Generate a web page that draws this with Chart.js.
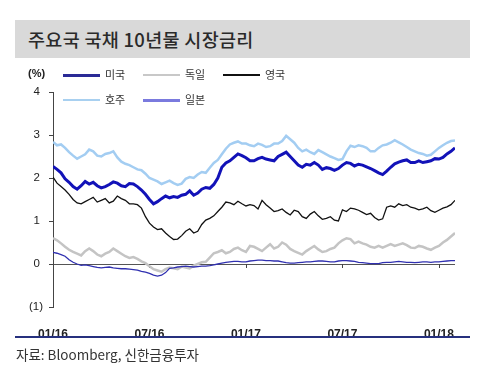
<!DOCTYPE html>
<html>
<head>
<meta charset="utf-8">
<script src="https://cdn.jsdelivr.net/npm/chart.js@4/dist/chart.umd.min.js"></script>
<style>
  html, body { margin:0; padding:0; background:#fff; }
  #wrap { position:relative; width:500px; height:378px; overflow:hidden; background:#fff; font-family:"Noto Sans CJK KR","Noto Sans",sans-serif; }
  #band { position:absolute; left:15px; top:20px; width:455px; height:38px; background:#d9d9d9; }
  #title { position:absolute; left:28px; top:27px; font-size:18.5px; font-weight:500; line-height:24px; color:#2a2a2a; white-space:nowrap; letter-spacing:0.3px; }
  canvas { position:absolute; left:0; top:0; }
  .lg { position:absolute; font-size:11px; line-height:14px; color:#333; white-space:nowrap; }
  .ln { position:absolute; }
  #unit { position:absolute; left:28px; top:67px; font:bold 11px "Liberation Sans",Arial,sans-serif; color:#222; }
  #rule { position:absolute; left:15px; top:336px; width:455px; height:2px; background:#26307e; }
  #src { position:absolute; left:16px; top:345px; font-size:13.5px; line-height:18px; color:#333; white-space:nowrap; }
</style>
</head>
<body>
<div id="wrap">
  <div id="band"></div>
  <div id="title">주요국 국채 10년물 시장금리</div>
  <canvas id="c" width="500" height="378"></canvas>
  <div id="unit">(%)</div>
  <div id="legend"></div>
  <div id="rule"></div>
  <div id="src">자료: Bloomberg, 신한금융투자</div>
</div>
<script>
// months since Jan 2016 (quarter-month steps)
const months = [0,0.25,0.5,0.75,1,1.25,1.5,1.75,2,2.25,2.5,2.75,3,3.25,3.5,3.75,4,4.25,4.5,4.75,5,5.25,5.5,5.75,6,6.25,6.5,6.75,7,7.25,7.5,7.75,8,8.25,8.5,8.75,9,9.25,9.5,9.75,10,10.25,10.5,10.75,11,11.25,11.5,11.75,12,12.25,12.5,12.75,13,13.25,13.5,13.75,14,14.25,14.5,14.75,15,15.25,15.5,15.75,16,16.25,16.5,16.75,17,17.25,17.5,17.75,18,18.25,18.5,18.75,19,19.25,19.5,19.75,20,20.25,20.5,20.75,21,21.25,21.5,21.75,22,22.25,22.5,22.75,23,23.25,23.5,23.75,24,24.25,24.5,24.75,25];

const usValues = [2.27,2.20,2.12,1.98,1.90,1.80,1.74,1.82,1.92,1.86,1.90,1.82,1.77,1.80,1.85,1.91,1.88,1.82,1.80,1.87,1.86,1.80,1.72,1.62,1.50,1.40,1.45,1.52,1.58,1.54,1.57,1.55,1.60,1.62,1.70,1.60,1.65,1.74,1.78,1.76,1.85,2.00,2.25,2.35,2.40,2.48,2.56,2.52,2.47,2.40,2.40,2.45,2.48,2.44,2.42,2.40,2.50,2.55,2.60,2.50,2.40,2.30,2.25,2.32,2.30,2.36,2.30,2.20,2.24,2.22,2.18,2.22,2.30,2.36,2.34,2.28,2.32,2.30,2.26,2.22,2.17,2.12,2.08,2.16,2.25,2.33,2.37,2.40,2.42,2.36,2.36,2.40,2.36,2.38,2.40,2.45,2.44,2.48,2.56,2.62,2.70];
const deValues = [0.60,0.55,0.48,0.40,0.33,0.28,0.24,0.20,0.30,0.36,0.30,0.22,0.18,0.24,0.28,0.36,0.30,0.24,0.18,0.14,0.16,0.12,0.06,0.02,-0.05,-0.12,-0.15,-0.18,-0.12,-0.08,-0.10,-0.12,-0.06,-0.08,-0.10,-0.04,0.00,0.04,0.05,0.15,0.25,0.28,0.32,0.25,0.28,0.35,0.38,0.32,0.28,0.42,0.40,0.35,0.30,0.38,0.46,0.36,0.40,0.50,0.45,0.35,0.30,0.26,0.22,0.30,0.36,0.42,0.34,0.28,0.30,0.35,0.38,0.48,0.55,0.60,0.58,0.48,0.52,0.48,0.45,0.40,0.38,0.42,0.38,0.42,0.46,0.42,0.45,0.48,0.44,0.38,0.37,0.42,0.40,0.36,0.33,0.38,0.42,0.50,0.56,0.64,0.72];
const ukValues = [2.02,1.88,1.80,1.72,1.62,1.50,1.42,1.40,1.45,1.50,1.55,1.44,1.48,1.52,1.42,1.46,1.58,1.52,1.48,1.40,1.40,1.38,1.30,1.10,0.95,0.86,0.80,0.82,0.72,0.64,0.57,0.58,0.66,0.76,0.82,0.72,0.76,0.92,1.02,1.06,1.12,1.22,1.32,1.44,1.42,1.38,1.46,1.40,1.35,1.38,1.36,1.28,1.48,1.38,1.30,1.22,1.24,1.28,1.20,1.14,1.25,1.22,1.10,1.06,1.16,1.22,1.12,1.04,1.06,1.10,1.02,1.00,1.26,1.22,1.30,1.28,1.25,1.20,1.15,1.18,1.08,1.02,1.05,1.32,1.35,1.32,1.40,1.36,1.38,1.32,1.30,1.26,1.28,1.32,1.24,1.20,1.25,1.30,1.33,1.38,1.48];
const auValues = [2.84,2.76,2.78,2.70,2.60,2.52,2.45,2.50,2.55,2.66,2.62,2.52,2.50,2.56,2.58,2.62,2.48,2.38,2.33,2.30,2.25,2.20,2.18,2.10,2.00,1.96,1.92,1.86,1.90,1.94,1.88,1.84,1.87,1.98,2.02,2.00,2.08,2.14,2.12,2.24,2.35,2.42,2.55,2.68,2.78,2.82,2.85,2.80,2.80,2.76,2.74,2.80,2.77,2.72,2.74,2.80,2.80,2.86,2.98,2.90,2.82,2.70,2.62,2.66,2.60,2.56,2.65,2.60,2.55,2.50,2.46,2.42,2.44,2.62,2.75,2.72,2.76,2.74,2.70,2.62,2.62,2.70,2.76,2.78,2.82,2.88,2.83,2.78,2.72,2.66,2.62,2.58,2.56,2.52,2.54,2.62,2.70,2.76,2.82,2.86,2.87];
const jpValues = [0.27,0.25,0.22,0.18,0.10,0.04,0.00,-0.03,-0.02,-0.04,-0.06,-0.08,-0.09,-0.08,-0.07,-0.09,-0.10,-0.11,-0.11,-0.12,-0.13,-0.14,-0.17,-0.19,-0.22,-0.26,-0.28,-0.26,-0.20,-0.10,-0.09,-0.07,-0.06,-0.05,-0.06,-0.07,-0.06,-0.05,-0.05,-0.04,-0.02,0.00,0.02,0.04,0.05,0.06,0.06,0.05,0.05,0.07,0.08,0.09,0.09,0.08,0.08,0.07,0.07,0.05,0.03,0.02,0.02,0.03,0.04,0.05,0.05,0.06,0.07,0.07,0.06,0.05,0.05,0.07,0.08,0.08,0.07,0.06,0.04,0.03,0.02,0.01,0.01,0.01,0.03,0.04,0.04,0.05,0.06,0.05,0.04,0.04,0.03,0.04,0.05,0.05,0.04,0.05,0.05,0.06,0.07,0.08,0.08];

const seriesNames = ['미국','독일','영국','호주','일본'];
const xTickValues = [0,6,12,18,24];
const xTickLabels = ['01/16','07/16','01/17','07/17','01/18'];
const yTickValues = [4,3,2,1,0,-1];
const yTickLabels = ['4 ','3 ','2 ','1 ','0 ','(1)'];

const lineColors = ['#1212b8','#c4c4c4','#111111','#a3cdf2','#3030b0'];
const lineWidths = [3,2.5,1.3,2.5,1.3];
const legendColors = ['#2a2a96','#c8c8c8','#111111','#a8d0f0','#7a7ade'];
const legendWidths = [3,2,1.5,2,3];
const legendPos = [[63,75],[143,75],[223,75],[63,100],[143,100]];

const seriesValues = [usValues, deValues, ukValues, auValues, jpValues];

// HTML legend
const lg = document.getElementById('legend');
seriesNames.forEach((name, i) => {
  const [x, y] = legendPos[i];
  const l = document.createElement('div');
  l.className = 'ln';
  l.style.left = x + 'px';
  l.style.width = '37px';
  l.style.top = (y - legendWidths[i] / 2) + 'px';
  l.style.height = legendWidths[i] + 'px';
  l.style.background = legendColors[i];
  lg.appendChild(l);
  const t = document.createElement('div');
  t.className = 'lg';
  t.style.left = (x + 42) + 'px';
  t.style.top = (y - 8) + 'px';
  t.textContent = name;
  lg.appendChild(t);
});

const zeroTicks = {
  id: 'zeroTicks',
  beforeDatasetsDraw(chart) {
    const ctx = chart.ctx, xs = chart.scales.x, ys = chart.scales.y;
    const y0 = ys.getPixelForValue(0);
    ctx.save();
    ctx.strokeStyle = '#444';
    ctx.lineWidth = 1;
    xTickValues.forEach(v => {
      const px = Math.round(xs.getPixelForValue(v)) + 0.5;
      ctx.beginPath();
      ctx.moveTo(px, y0);
      ctx.lineTo(px, y0 + 4);
      ctx.stroke();
    });
    ctx.restore();
  }
};

new Chart(document.getElementById('c'), {
  type: 'line',
  data: {
    datasets: seriesValues.map((vals, i) => ({
      label: seriesNames[i],
      data: vals.map((v, k) => ({ x: months[k], y: v })),
      borderColor: lineColors[i],
      borderWidth: lineWidths[i],
      pointRadius: 0,
      tension: 0,
      fill: false,
      order: [2,4,1,3,0][i]
    }))
  },
  options: {
    responsive: false,
    animation: false,
    events: [],
    layout: { padding: { left: 0, top: 92, right: 45, bottom: 0 } },
    plugins: { legend: { display: false }, tooltip: { enabled: false } },
    scales: {
      x: {
        type: 'linear',
        min: 0, max: 25,
        afterBuildTicks(scale) { scale.ticks = xTickValues.map(v => ({ value: v })); },
        afterFit(scale) { scale.height = 71; },
        grid: { display: false },
        border: { display: false },
        ticks: {
          autoSkip: false, maxRotation: 0, padding: 12,
          color: '#222',
          font: { family: 'Liberation Sans', size: 12, weight: 'bold' },
          callback: (v) => { const i = xTickValues.indexOf(v); return i >= 0 ? xTickLabels[i] : ''; }
        }
      },
      y: {
        min: -1, max: 4,
        afterBuildTicks(scale) { scale.ticks = yTickValues.map(v => ({ value: v })); },
        afterFit(scale) { scale.width = 53; },
        grid: {
          drawOnChartArea: true,
          color: (c) => (c.tick && c.tick.value === 0) ? '#555' : 'rgba(0,0,0,0)',
          lineWidth: 1,
          tickColor: '#444',
          tickLength: 4
        },
        border: { display: true, color: '#444', width: 1 },
        ticks: {
          padding: 6,
          color: '#222',
          font: { family: 'Liberation Sans', size: 11.5 },
          callback: (v) => { const i = yTickValues.indexOf(v); return i >= 0 ? yTickLabels[i] : ''; }
        }
      }
    }
  },
  plugins: [zeroTicks]
});
</script>
</body>
</html>
